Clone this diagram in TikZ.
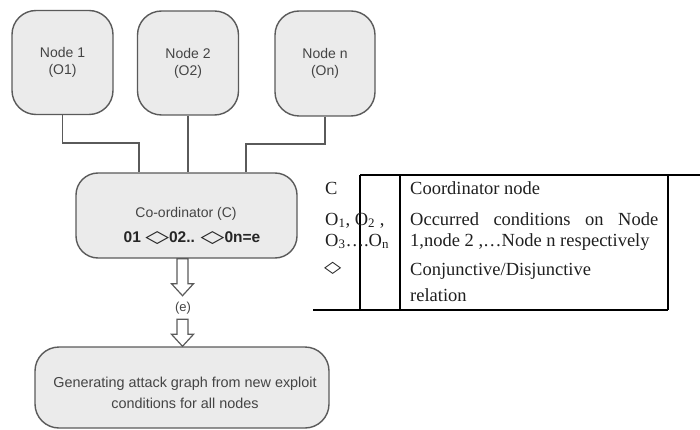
\documentclass[tikz,border=0pt]{standalone}
\usepackage{graphicx}
\usepackage{fontspec}
\setmainfont{Liberation Serif}
\setsansfont{Liberation Sans}
\newfontfamily\djv{DejaVu Sans}
\usetikzlibrary{calc}
\definecolor{boxfill}{HTML}{EBEBEB}
\definecolor{boxline}{HTML}{5A5A5A}
\definecolor{txtgray}{HTML}{444444}
\begin{document}
\begin{tikzpicture}[x=1pt,y=-1pt,
 rbox/.style={draw=boxline, fill=boxfill, line width=1.4pt, rounded corners=24pt, inner sep=0pt},
 ntext/.style={font=\sffamily\fontsize{14}{17}\selectfont, text=txtgray, align=center, inner sep=0pt},
 wire/.style={draw=boxline, line width=1.4pt},
 harrow/.style={draw=boxline, fill=white, line width=1.2pt, line join=miter},
 tline/.style={line width=1.5pt, black},
 ttext/.style={font=\fontsize{18.5}{22}\selectfont, text=black!88, anchor=base west, inner sep=0pt},
]
\useasboundingbox (0,0) rectangle (700,430);

% top nodes
\node[rbox, minimum width=101pt, minimum height=104pt, ntext] (n1) at (62.5,62.5) {Node 1\\(O1)};
\node[rbox, minimum width=101pt, minimum height=104pt, ntext] (n2) at (188,63) {Node 2\\(O2)};
\node[rbox, minimum width=100pt, minimum height=105pt, ntext] (nn) at (325,63.5) {Node n\\(On)};

% coordinator
\node[rbox, rounded corners=22pt, minimum width=221pt, minimum height=85pt] (coord) at (186.5,215.5) {};
\node[ntext] (ctitle) at (186,214) {Co-ordinator (C)};
\node[font=\sffamily\bfseries\fontsize{15.5}{18}\selectfont, text=black!85, inner sep=0pt] (cexpr) at (192,238)
  {01 {\djv\bfseries\scalebox{2}[1.1]{◇}}02.. {\djv\bfseries\scalebox{2}[1.1]{◇}}0n=e};

% wires
\coordinate (j1) at (139,143);
\coordinate (j3) at (246,144);
\draw[wire] (n1.south) |- (j1) -- (j1 |- coord.north);
\draw[wire] (n2.south) -- (n2.south |- coord.north);
\draw[wire] (nn.south) |- (j3) -- (j3 |- coord.north);

% bottom box
\node[rbox, minimum width=294pt, minimum height=81pt] (bot) at (182,387.5) {};
\node[ntext, font=\sffamily\fontsize{14.4}{21}\selectfont] (btext) at (185,392.5)
  {Generating attack graph from new exploit\\conditions for all nodes};

% hollow arrows
\coordinate (ax) at (182.5,0);
\draw[harrow] (coord.south -| ax) ++(-5.5,0) -- ++(0,25) -- ++(-5.5,0) -- ++(11,12) -- ++(11,-12) -- ++(-5.5,0) -- ++(0,-25) -- cycle;
\node[ntext, font=\sffamily\fontsize{13}{15}\selectfont] (elab) at (183,308) {(e)};
\draw[harrow] (bot.north -| ax) -- ++(-11,-12) -- ++(5.5,0) -- ++(0,-15) -- ++(11,0) -- ++(0,15) -- ++(5.5,0) -- cycle;

% legend table
\draw[tline] (360,175) -- (700,175);
\draw[tline] (360,175) -- (360,310);
\draw[tline] (400,175) -- (400,310);
\draw[tline] (668,175) -- (668,310);
\draw[tline] (313,310) -- (668,310);

\node[ttext] (tc) at (325,195) {C};
\node[ttext] (to1) at (325,225) {O\textsubscript{1}, O\textsubscript{2} ,};
\node[ttext] (to2) at (325,246) {O\textsubscript{3}….O\textsubscript{n}};
\node[ttext, anchor=west] (tdia) at (324,268) {\djv\bfseries\fontsize{16}{16}\selectfont\scalebox{1.4}[1.0]{◇}};

\node[ttext] (d1) at (410,195) {Coordinator node};
\node[ttext] (d2) at (410,225) {\makebox[248pt][s]{Occurred conditions on Node}};
\node[ttext] (d3) at (410,246) {1,node 2 ,…Node n respectively};
\node[ttext] (d4) at (410,275) {Conjunctive/Disjunctive};
\node[ttext] (d5) at (410,301) {relation};
\end{tikzpicture}
\end{document}
